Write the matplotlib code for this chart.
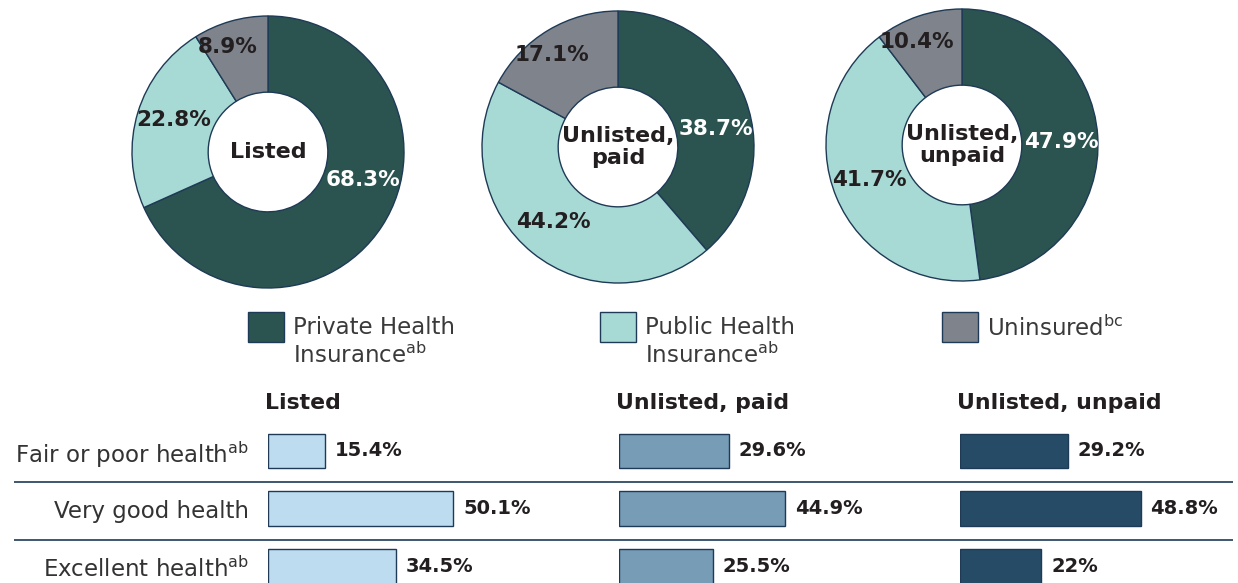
#!/usr/bin/env python3
import numpy as np
import matplotlib
matplotlib.use("Agg")
import matplotlib.pyplot as plt
from matplotlib.patches import Rectangle

# data
groups = ["Listed", "Unlisted, paid", "Unlisted, unpaid"]
donut_titles = ["Listed", "Unlisted,\npaid", "Unlisted,\nunpaid"]
private_ins = [68.3, 38.7, 47.9]
public_ins = [22.8, 44.2, 41.7]
uninsured = [8.9, 17.1, 10.4]
ins_labels = [["Private Health", "Insurance$^{\\mathrm{ab}}$"],
              ["Public Health", "Insurance$^{\\mathrm{ab}}$"],
              ["Uninsured$^{\\mathrm{bc}}$"]]

health_rows = ["Fair or poor health$^{\\mathrm{ab}}$", "Very good health", "Excellent health$^{\\mathrm{ab}}$"]
health_listed = [15.4, 50.1, 34.5]
health_paid = [29.6, 44.9, 25.5]
health_unpaid = [29.2, 48.8, 22.0]
health_text = [["15.4%", "50.1%", "34.5%"], ["29.6%", "44.9%", "25.5%"], ["29.2%", "48.8%", "22%"]]

# styling
W, H = 1238, 583
ins_colors = ["#2b5450", "#a7dad5", "#7f838b"]
bar_colors = ["#bddcef", "#769cb6", "#264b67"]
edge = "#1e3a56"
txt = "#231f20"
plt.rcParams['font.family'] = ['DejaVu Sans']
plt.rcParams['mathtext.fontset'] = 'dejavusans'

def fx(px):
    return px / W

def fy(py):
    return 1 - py / H

fig = plt.figure(figsize=(W / 100, H / 100), dpi=100)

# donuts
centers = [(268, 152), (618, 147), (962, 145)]
R = 136
for i, (cx, cy) in enumerate(centers):
    ax = fig.add_axes([fx(cx - R), fy(cy + R), 2 * R / W, 2 * R / H])
    vals = [private_ins[i], public_ins[i], uninsured[i]]
    ax.pie(vals, colors=ins_colors, startangle=90, counterclock=False, radius=1,
           wedgeprops=dict(width=0.56, edgecolor=edge, linewidth=1))
    ax.set_xlim(-1, 1)
    ax.set_ylim(-1, 1)
    ax.set_aspect('equal')
    ax.axis('off')
    ax.text(0, 0, donut_titles[i], ha='center', va='center', fontsize=16,
            fontweight='bold', color=txt, linespacing=1.1)
    # slice labels
    start = 90.0
    for j, v in enumerate(vals):
        span = v / 100 * 360
        mid = start - span / 2
        start -= span
        if j == 0:
            ang, r = mid * 0.5, 0.73
        elif j == 1:
            ang, r = mid - 2, 0.73
        else:
            ang, r = mid + 5, 0.83
        a = np.deg2rad(ang)
        ax.text(r * np.cos(a), r * np.sin(a), f"{v}%", ha='center', va='center',
                fontsize=15.5, fontweight='bold', color='white' if j == 0 else txt)

# legend
leg_x = [248, 600, 942]
for i, lines in enumerate(ins_labels):
    fig.patches.append(Rectangle((fx(leg_x[i]), fy(342)), 36 / W, 30 / H,
                                 transform=fig.transFigure, facecolor=ins_colors[i],
                                 edgecolor=edge, linewidth=1))
    for k, line in enumerate(lines):
        fig.text(fx(leg_x[i] + 45), fy(328 + 27 * k), line, ha='left', va='center',
                 fontsize=16.5, color='#3a3a3a')

# bars
col_x = [268, 619, 960]
px_per_pct = 3.7
row_y = np.arange(len(health_rows))
top_px, bot_px = 422, 583
ylim = (2.28, -0.5)
series = [health_listed, health_paid, health_unpaid]
for c, vals in enumerate(series):
    ax = fig.add_axes([fx(col_x[c]), fy(bot_px), 60 * px_per_pct / W, (bot_px - top_px) / H])
    ax.barh(row_y, vals, height=0.6, color=bar_colors[c], edgecolor=edge, linewidth=1)
    for y, v, t in zip(row_y, vals, health_text[c]):
        ax.text(v + 2.6, y, t, ha='left', va='center', fontsize=14,
                fontweight='bold', color=txt)
    ax.set_xlim(0, 60)
    ax.set_ylim(*ylim)
    for s in ax.spines.values():
        s.set_visible(False)
    ax.set_xticks([])
    ax.patch.set_alpha(0)
    if c == 0:
        ax.set_yticks(row_y)
        ax.set_yticklabels(health_rows, fontsize=16.5, color='#333333')
        ax.tick_params(axis='y', length=0, pad=14)
    else:
        ax.set_yticks([])
    fig.text(fx(col_x[c] - 3), fy(403), groups[c], ha='left', va='center',
             fontsize=15.8, fontweight='bold', color=txt)

# row separators
axl = fig.add_axes([0, fy(bot_px), 1, (bot_px - top_px) / H], zorder=-1)
axl.set_xlim(0, W)
axl.set_ylim(*ylim)
axl.hlines([0.53, 1.53], 14, 1233, color='#2c4a63', linewidth=1.3)
axl.axis('off')

fig.savefig("out.png", dpi=100)
